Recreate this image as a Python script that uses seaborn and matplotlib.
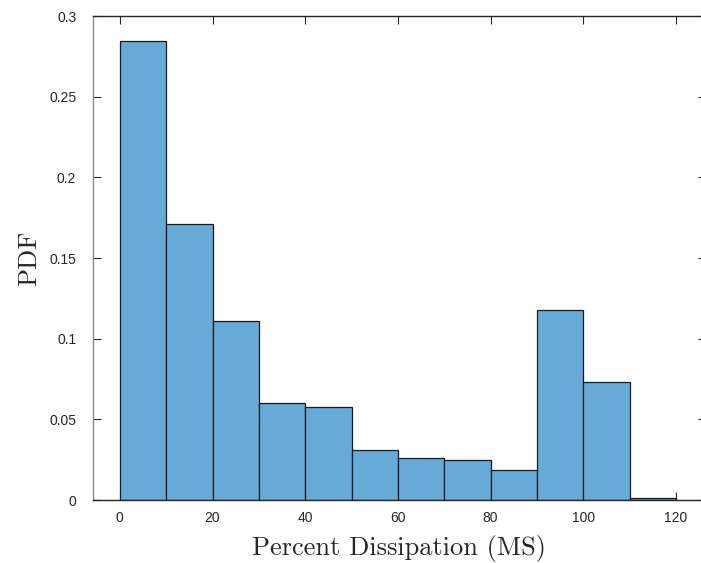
import numpy as np
import pandas as pd
import seaborn as sns
import matplotlib
matplotlib.use("Agg")
import matplotlib.pyplot as plt
from matplotlib.ticker import FuncFormatter

# Data
bin_edges = [0, 10, 20, 30, 40, 50, 60, 70, 80, 90, 100, 110, 120]
pdf_values = [0.2848, 0.1711, 0.1109, 0.0599, 0.0575, 0.0307,
              0.0258, 0.0245, 0.0183, 0.1177, 0.0730, 0.0010]
x_ticks = [0, 20, 40, 60, 80, 100, 120]
y_ticks = [0, 0.05, 0.1, 0.15, 0.2, 0.25, 0.3]

centers = [(a + b) / 2 for a, b in zip(bin_edges[:-1], bin_edges[1:])]
df = pd.DataFrame({"x": centers, "w": pdf_values})

sns.set_style("white")
plt.rcParams["font.family"] = ["Liberation Sans", "DejaVu Sans"]

fig = plt.figure(figsize=(7.01, 5.63), dpi=100)
ax = fig.add_axes([93 / 701, 1 - 500 / 563, (706 - 93) / 701, (500 - 16) / 563])

sns.histplot(data=df, x="x", weights="w", bins=bin_edges, stat="count",
             color="#66AAD7", alpha=1.0, edgecolor="#1a1a1a", linewidth=0.9,
             ax=ax)

ax.set_xlim(-5.8, 126.5)
ax.set_ylim(0, 0.3)
ax.set_xticks(x_ticks)
ax.set_yticks(y_ticks)
ax.yaxis.set_major_formatter(FuncFormatter(lambda v, p: "%g" % v))
ax.xaxis.set_major_formatter(FuncFormatter(lambda v, p: "%g" % v))

ax.tick_params(direction="in", length=6, width=0.8, colors="#262626",
               labelsize=10, top=True, right=True, bottom=True, left=True)
ax.tick_params(axis="x", pad=8)
ax.tick_params(axis="y", pad=12)

for side in ["top", "bottom"]:
    ax.spines[side].set_color("#262626")
    ax.spines[side].set_linewidth(1.0)
ax.spines["left"].set_color("#888888")
ax.spines["left"].set_linewidth(1.0)
ax.spines["right"].set_visible(False)

ax.set_xlabel("Percent Dissipation (MS)", fontfamily="cmr10", fontsize=19,
              labelpad=7, color="#262626")
ax.set_ylabel("PDF", fontfamily="cmr10", fontsize=19, labelpad=6,
              color="#262626")

fig.savefig("out.png", dpi=100)
